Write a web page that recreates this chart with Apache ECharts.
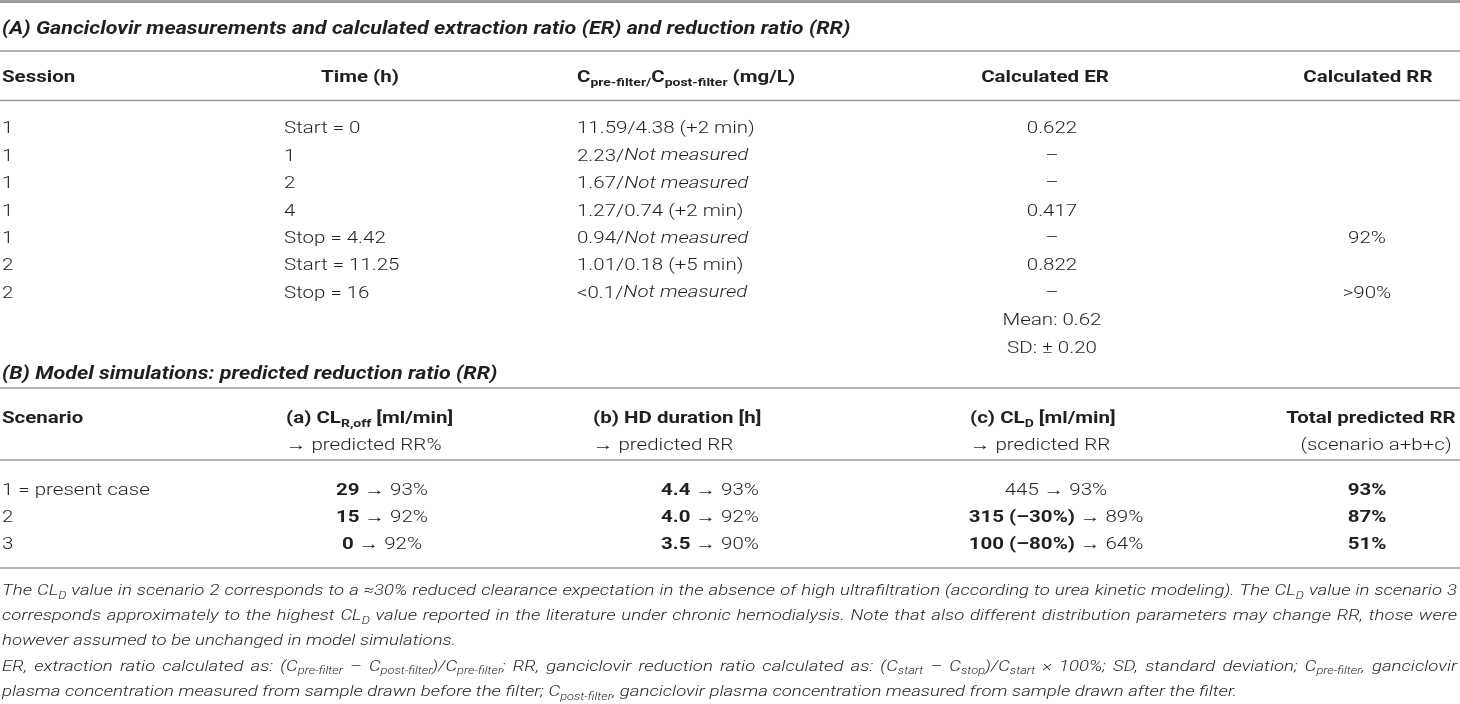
<!DOCTYPE html>
<html><head><meta charset="utf-8">
<script src="https://cdn.jsdelivr.net/npm/echarts@6/dist/echarts.min.js"></script>
<style>html,body{margin:0;padding:0;background:#fff}#c{width:1460px;height:704px}</style>
</head><body><div id="c"></div>
<script>
// ---------------- DATA ----------------
const titleA = '(A) Ganciclovir measurements and calculated extraction ratio (ER) and reduction ratio (RR)';
const headersA = ['Session', 'Time (h)', 'C{bsub|pre-filter/}C{bsub|post-filter} (mg/L)', 'Calculated ER', 'Calculated RR'];
const sessions = ['1', '1', '1', '1', '1', '2', '2'];
const times = ['Start = 0', '1', '2', '4', 'Stop = 4.42', 'Start = 11.25', 'Stop = 16'];
const cPre = ['11.59', '2.23', '1.67', '1.27', '0.94', '1.01', '<0.1'];
const cPost = ['4.38 (+2 min)', 'Not measured', 'Not measured', '0.74 (+2 min)', 'Not measured', '0.18 (+5 min)', 'Not measured'];
const erValues = ['0.622', '–', '–', '0.417', '–', '0.822', '–'];
const erSummary = ['Mean: 0.62', 'SD: ± 0.20'];
const rrValues = ['', '', '', '', '92%', '', '>90%'];

const titleB = '(B) Model simulations: predicted reduction ratio (RR)';
const headersB = ['Scenario', '(a) CL{bsub|R,off} [ml/min]', '(b) HD duration [h]', '(c) CL{bsub|D} [ml/min]', 'Total predicted RR'];
const subHeadersB = ['', '→ predicted RR%', '→ predicted RR', '→ predicted RR', '(scenario a+b+c)'];
const scenarios = ['1 = present case', '2', '3'];
const clROff = ['29', '15', '0'];
const rrA = ['93%', '92%', '92%'];
const hdDuration = ['4.4', '4.0', '3.5'];
const rrB = ['93%', '92%', '90%'];
const clD = ['445', '315 (–30%)', '100 (–80%)'];
const clDChanged = [false, true, true];
const rrC = ['93%', '89%', '64%'];
const totalRR = ['93%', '87%', '51%'];

const footnotes = [
  'The CL{isub|D} value in scenario 2 corresponds to a ≈30% reduced clearance expectation in the absence of high ultrafiltration (according to urea kinetic modeling). The CL{isub|D} value in scenario 3',
  'corresponds approximately to the highest CL{isub|D} value reported in the literature under chronic hemodialysis. Note that also different distribution parameters may change RR, those were',
  'however assumed to be unchanged in model simulations.',
  'ER, extraction ratio calculated as: (C{isub|pre-filter} – C{isub|post-filter})/C{isub|pre-filter}; RR, ganciclovir reduction ratio calculated as: (C{isub|start} – C{isub|stop})/C{isub|start} × 100%; SD, standard deviation; C{isub|pre-filter}, ganciclovir',
  'plasma concentration measured from sample drawn before the filter; C{isub|post-filter}, ganciclovir plasma concentration measured from sample drawn after the filter.'
];
const footnoteJustify = [true, true, false, true, false];

// ---------------- LAYOUT / STYLE ----------------
const FONT = 'Roboto, "Liberation Sans", sans-serif';
const INK = '#231f20';
const RULE = '#9a9a9a';
const SY = 0.82;
const TDY = 2.5; // visual centring of glyphs
const L = {
  left: 2, right: 1457,
  session: 2, timeH: 360, time: 284, conc: 577, erH: 1045, er: 1052, rrH: 1368, rr: 1367,
  scen: 2, aH: 286, a: 382, bH: 593, b: 710, cH: 970, c: 1056, tH: 1371, tS: 1376, t: 1367,
  yTitleA: 28, yHeadA: 77, yRowA0: 128, dyA: 27.4,
  yTitleB: 373, yHeadB: 418, ySubB: 445, yRowB0: 490, dyB: 27,
  yNote0: 590, dyNote: 25.2
};
const rules = [[1.5, 3], [51, 1.3], [100.5, 1.3], [388, 1.3], [460, 1.3], [568, 1.3]];

function mk(size, weight, italic, sub) {
  const s = { fontFamily: FONT, fontSize: size, fontWeight: weight, fontStyle: italic ? 'italic' : 'normal',
    fill: INK, verticalAlign: 'top', lineHeight: sub ? Math.round(size * 1.15) : Math.round(size * 1.17) };
  if (sub) s.padding = [Math.round(size * 0.72), 0, 0, 0];
  return s;
}
const BODY = 20.5, SUB = 14, TITLE = 21.5, NOTE = 18.6, NSUB = 12.8;
const richBody = {
  n: mk(BODY, 300, false), b: mk(BODY, 700, false), i: mk(BODY, 300, true), T: mk(TITLE, 700, true),
  sub: mk(SUB, 300, false, true), bsub: mk(SUB, 700, false, true)
};
const richNote = { i: mk(NOTE, 300, true), isub: mk(NSUB, 300, true, true) };

function parse(markup, base) {
  const out = []; const re = /\{(\w+)\|([^}]*)\}/g; let last = 0, m;
  while ((m = re.exec(markup))) {
    if (m.index > last) out.push({ s: base, t: markup.slice(last, m.index) });
    out.push({ s: m[1], t: m[2] }); last = re.lastIndex;
  }
  if (last < markup.length) out.push({ s: base, t: markup.slice(last) });
  return out;
}
const toRich = segs => segs.filter(g => g.t !== '').map(g => '{' + g.s + '|' + g.t + '}').join('');

const mctx = document.createElement('canvas').getContext('2d');
function measure(segs, rich) {
  let w = 0;
  segs.forEach(g => { const s = rich[g.s];
    mctx.font = s.fontStyle + ' ' + s.fontWeight + ' ' + s.fontSize + 'px ' + s.fontFamily;
    w += mctx.measureText(g.t).width; });
  return w;
}

// ---------------- CELLS built from the data arrays ----------------
const cells = [];
function cell(x, y, align, text, base, rich, justify) { cells.push({ x, y, align, text, base, rich: rich || richBody, justify: !!justify }); }

cell(L.left, L.yTitleA, 'left', titleA, 'T');
const hxA = [[L.session, 'left'], [L.timeH, 'center'], [L.conc, 'left'], [L.erH, 'center'], [L.rrH, 'center']];
headersA.forEach((h, k) => cell(hxA[k][0], L.yHeadA, hxA[k][1], h, 'b'));
sessions.forEach((s, i) => {
  const y = L.yRowA0 + i * L.dyA;
  cell(L.session, y, 'left', s, 'n');
  cell(L.time, y, 'left', times[i], 'n');
  cell(L.conc, y, 'left', cPre[i] + '/' + (cPost[i] === 'Not measured' ? '{i|Not measured}' : cPost[i]), 'n');
  cell(L.er, y, 'center', erValues[i], 'n');
  if (rrValues[i]) cell(L.rr, y, 'center', rrValues[i], 'n');
});
erSummary.forEach((s, k) => cell(L.er, L.yRowA0 + (sessions.length + k) * L.dyA, 'center', s, 'n'));

cell(L.left, L.yTitleB, 'left', titleB, 'T');
const hxB = [[L.scen, 'left'], [L.aH, 'left'], [L.bH, 'left'], [L.cH, 'left'], [L.tH, 'center']];
headersB.forEach((h, k) => cell(hxB[k][0], L.yHeadB, hxB[k][1], h, 'b'));
subHeadersB.forEach((h, k) => { if (h) cell(k === 4 ? L.tS : hxB[k][0], L.ySubB, hxB[k][1], h, 'n'); });
scenarios.forEach((s, i) => {
  const y = L.yRowB0 + i * L.dyB;
  cell(L.scen, y, 'left', s, 'n');
  cell(L.a, y, 'center', '{b|' + clROff[i] + '} → ' + rrA[i], 'n');
  cell(L.b, y, 'center', '{b|' + hdDuration[i] + '} → ' + rrB[i], 'n');
  cell(L.c, y, 'center', (clDChanged[i] ? '{b|' + clD[i] + '}' : clD[i]) + ' → ' + rrC[i], 'n');
  cell(L.t, y, 'center', '{b|' + totalRR[i] + '}', 'n');
});
footnotes.forEach((f, k) => cell(L.left, L.yNote0 + k * L.dyNote, 'left', f, 'i', richNote, footnoteJustify[k]));

// ---------------- RENDER ----------------
function textEl(px, py, align, segs, rich) {
  return { type: 'text', x: px, y: py + TDY, scaleY: SY,
    style: { x: 0, y: 0, text: toRich(segs), rich: rich, align: align, verticalAlign: 'middle',
      fontFamily: FONT, fontSize: BODY, fill: INK } };
}
function renderCell(params, api) {
  const c = cells[api.value(2)];
  const p = api.coord([api.value(0), api.value(1)]);
  const segs = parse(c.text, c.base);
  if (!c.justify) return textEl(p[0], p[1], c.align, segs, c.rich);
  const words = []; let cur = [];
  segs.forEach(g => {
    g.t.split(' ').forEach((part, k) => {
      if (k > 0 && cur.length) { words.push(cur); cur = []; }
      if (part !== '') cur.push({ s: g.s, t: part });
    });
  });
  if (cur.length) words.push(cur);
  const right = api.coord([L.right, 0])[0];
  const widths = words.map(w => measure(w, c.rich));
  const total = widths.reduce((a, b) => a + b, 0);
  const gap = (right - p[0] - total) / (words.length - 1);
  let x = p[0]; const children = [];
  words.forEach((w, k) => { children.push(textEl(x, p[1], 'left', w, c.rich)); x += widths[k] + gap; });
  return { type: 'group', children };
}
function renderRule(params, api) {
  const a = api.coord([0, api.value(0)]), b = api.coord([1460, api.value(0)]);
  return { type: 'line', shape: { x1: a[0], y1: a[1], x2: b[0], y2: b[1] },
    style: { stroke: RULE, lineWidth: api.value(1) } };
}

const chart = echarts.init(document.getElementById('c'), null, { renderer: 'canvas' });
chart.setOption({
  animation: false,
  backgroundColor: '#ffffff',
  grid: { left: 0, right: 0, top: 0, bottom: 0 },
  xAxis: { type: 'value', min: 0, max: 1460, show: false },
  yAxis: { type: 'value', min: 0, max: 704, inverse: true, show: false },
  series: [
    { type: 'custom', silent: true, clip: false, renderItem: renderRule, data: rules },
    { type: 'custom', silent: true, clip: false, renderItem: renderCell, data: cells.map((c, i) => [c.x, c.y, i]) }
  ]
});
</script></body></html>
